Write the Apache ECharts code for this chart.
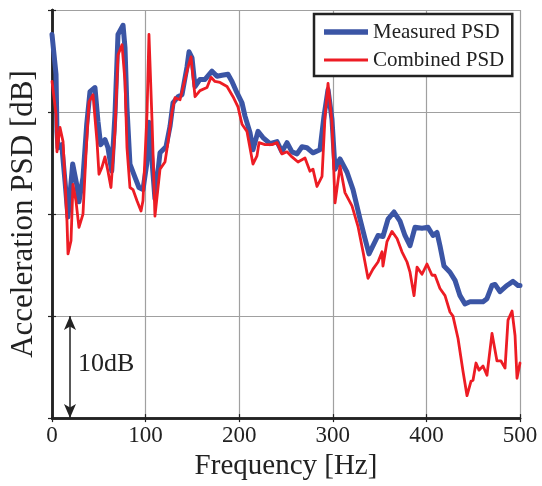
<!DOCTYPE html>
<html>
<head>
<meta charset="utf-8">
<script src="https://cdn.jsdelivr.net/npm/echarts@6/dist/echarts.min.js"></script>
<style>
html,body{margin:0;padding:0;background:#fff;}
#chart{width:542px;height:486px;}
</style>
</head>
<body>
<div id="chart"></div>
<script>
// ---- data ----
const xTicks = [0, 100, 200, 300, 400, 500];
const measuredFreq = [0,4.3,5.3,6.4,10.4,13.9,17.1,22.1,26.4,28.8,33.1,37.1,40.6,45.9,49.1,52.0,56.6,59.8,63.8,67.3,70.5,75.9,78.0,80.1,83.3,88.7,92.9,97.2,101.2,103.6,110.0,115.4,121.8,126.1,129.3,134.6,138.9,144.2,146.4,149.6,152.8,158.1,163.5,170.9,176.3,181.6,188.0,192.3,197.6,203.0,206.2,211.5,214.7,220.1,225.4,232.9,240.4,245.7,251.1,256.4,261.8,267.1,272.4,278.8,286.3,290.6,294.9,299.1,302.4,307.7,315.2,321.6,329.1,334.4,338.7,343.0,348.3,353.6,359.0,365.4,371.8,377.1,382.5,387.8,395.3,401.7,407.1,411.3,414.5,418.8,425.2,430.6,435.9,441.2,446.6,454.1,460.5,464.7,470.1,473.3,478.6,486.1,492.5,497.9,500];
const measuredPSD = [37.6,33.7,28.1,26.5,26.8,23.2,19.7,24.9,22.9,21.2,23.6,28.8,32.0,32.4,29.1,26.8,27.3,26.5,24.2,29.8,37.6,38.5,36.3,30.4,24.9,23.6,22.6,22.4,24.9,29.0,21.5,26.0,26.6,28.6,30.9,31.5,31.7,34.4,35.9,35.3,32.5,33.2,33.2,34.0,33.5,33.6,33.7,33.0,31.9,30.9,29.6,28.0,26.3,28.1,27.5,26.9,27.1,26.1,27.0,26.1,25.9,26.6,26.5,26.0,26.3,29.6,32.2,29.3,24.4,25.4,24.1,22.4,19.5,17.6,16.1,16.9,17.9,17.8,19.5,20.2,19.3,17.9,16.9,18.7,18.6,18.7,17.9,18.2,16.9,14.9,14.3,13.5,12.0,11.2,11.4,11.4,11.4,11.7,13.0,13.1,12.4,13.0,13.4,13.0,13.0];
const combinedFreq = [0,4.3,5.3,8.5,11.8,13.9,16.0,17.1,20.3,22.4,25.6,28.8,33.1,36.3,39.5,43.8,48.1,50.2,53.4,56.6,59.8,63.0,67.3,70.5,74.8,78.0,80.1,83.3,86.5,90.8,95.1,97.2,101.5,103.6,106.8,110.0,115.4,120.7,123.9,128.2,131.4,136.8,140.0,145.3,148.5,152.8,158.1,165.6,169.9,174.1,179.5,187.0,193.4,198.7,203.0,208.3,214.7,219.0,221.2,227.6,235.0,240.4,245.7,251.1,256.4,262.8,270.3,275.6,278.8,283.1,288.5,291.7,294.9,299.1,302.4,307.7,313.0,320.5,326.9,332.3,337.6,342.9,348.3,352.6,353.6,357.9,363.2,368.6,373.9,379.3,382.5,386.8,390.0,395.3,400.6,406.0,409.2,414.5,419.9,425.2,428.4,433.8,439.1,443.4,447.6,449.8,453.0,456.2,460.5,464.7,470.1,475.4,479.7,484.0,487.2,491.5,494.7,496.8,500];
const combinedPSD = [33.0,29.8,26.1,28.5,27.1,23.2,19.3,16.1,17.4,22.9,21.3,18.7,20.0,25.9,31.0,31.7,27.1,23.9,24.6,25.6,24.2,22.6,28.1,35.6,36.6,33.0,26.5,22.6,22.4,21.3,20.3,21.3,29.8,37.6,29.3,19.8,24.4,25.1,27.0,30.0,31.4,31.2,32.4,34.4,35.4,31.5,32.1,32.4,33.4,33.0,32.9,32.5,31.5,30.5,28.8,28.1,24.9,25.7,27.0,26.8,26.8,27.0,25.9,26.1,25.6,25.1,25.5,24.2,24.4,22.7,23.7,29.6,32.8,29.0,21.1,24.7,22.1,20.8,18.8,16.3,13.7,14.6,15.3,16.3,14.9,17.3,18.3,17.6,16.3,15.3,14.3,12.0,14.8,14.1,15.1,14.0,14.0,12.7,12.0,10.4,10.0,7.8,4.6,2.2,3.6,3.7,5.4,4.7,5.1,4.2,8.3,5.6,5.6,4.9,9.6,10.5,8.1,3.9,5.4];
const scaleBar = { freq: 19.2, from: 0, to: 10, label: '10dB' };
const seriesNames = ['Measured PSD', 'Combined PSD'];

function zip(xs, ys) {
  const n = Math.min(xs.length, ys.length);
  const out = [];
  for (let i = 0; i < n; i++) out.push([xs[i], ys[i]]);
  return out;
}

const FONT = "'Liberation Serif', 'Times New Roman', serif";
const INK = '#222';
const BLUE = '#3b55a5';
const RED = '#ed1c24';
const chart = echarts.init(document.getElementById('chart'), null, { renderer: 'canvas' });

const commonX = {
  type: 'value', min: xTicks[0], max: xTicks[xTicks.length - 1], interval: 100
};
const commonY = { type: 'value', min: 0, max: 40, interval: 10 };

chart.setOption({
  animation: false,
  backgroundColor: '#fff',
  grid: { left: 52, right: 22, top: 10, bottom: 66, containLabel: false },
  legend: {
    left: 314, top: 14, orient: 'vertical',
    backgroundColor: '#fff', borderColor: INK, borderWidth: 2.5,
    padding: [7, 8, 5, 10],
    itemWidth: 44, itemHeight: 22, itemGap: 6,
    symbolKeepAspect: true,
    textStyle: { fontFamily: FONT, fontSize: 21, color: INK, lineHeight: 22 },
    data: [
      { name: seriesNames[0], icon: 'path://M0,0h44v5.5h-44z', itemStyle: { color: BLUE } },
      { name: seriesNames[1], icon: 'path://M0,0h44v3h-44z', itemStyle: { color: RED } }
    ]
  },
  xAxis: [
    Object.assign({}, commonX, {
      position: 'bottom',
      name: 'Frequency [Hz]', nameLocation: 'middle', nameGap: 32,
      nameTextStyle: { fontFamily: FONT, fontSize: 29, color: INK },
      axisLine: { show: true, lineStyle: { color: INK, width: 2.5 } },
      axisTick: { show: true, inside: true, length: 4, lineStyle: { color: INK, width: 1.2 } },
      axisLabel: { fontFamily: FONT, fontSize: 23, color: INK, margin: 6 },
      splitLine: { show: true, lineStyle: { color: '#a0a0a0', width: 1.2 } }
    }),
    Object.assign({}, commonX, {
      position: 'top',
      axisLine: { show: true, lineStyle: { color: INK, width: 2.5 } },
      axisTick: { show: true, inside: true, length: 4, lineStyle: { color: INK, width: 1.2 } },
      axisLabel: { show: false },
      splitLine: { show: false }
    })
  ],
  yAxis: [
    Object.assign({}, commonY, {
      position: 'left',
      name: 'Acceleration PSD [dB]', nameLocation: 'middle', nameGap: 13,
      nameTextStyle: { fontFamily: FONT, fontSize: 31, color: INK },
      axisLine: { show: true, lineStyle: { color: INK, width: 2.5 } },
      axisTick: { show: true, inside: true, length: 4, lineStyle: { color: INK, width: 1.2 } },
      axisLabel: { show: false },
      splitLine: { show: true, lineStyle: { color: '#a0a0a0', width: 1.2 } }
    }),
    Object.assign({}, commonY, {
      position: 'right',
      axisLine: { show: true, lineStyle: { color: INK, width: 2.5 } },
      axisTick: { show: true, inside: true, length: 4, lineStyle: { color: INK, width: 1.2 } },
      axisLabel: { show: false },
      splitLine: { show: false }
    })
  ],
  series: [
    {
      name: seriesNames[0], type: 'line', xAxisIndex: 0, yAxisIndex: 0,
      data: zip(measuredFreq, measuredPSD),
      symbol: 'none', showSymbol: false, smooth: false, clip: true,
      color: BLUE,
      lineStyle: { color: BLUE, width: 5, join: 'round', cap: 'round' },
      markLine: {
        silent: true, animation: false,
        symbol: ['arrow', 'arrow'], symbolSize: [9, 14],
        label: { show: false },
        lineStyle: { color: INK, width: 1.5, type: 'solid' },
        emphasis: { disabled: true },
        data: [[{ coord: [scaleBar.freq, scaleBar.from] }, { coord: [scaleBar.freq, scaleBar.to] }]]
      }
    },
    {
      name: seriesNames[1], type: 'line', xAxisIndex: 0, yAxisIndex: 0,
      data: zip(combinedFreq, combinedPSD),
      symbol: 'none', showSymbol: false, smooth: false, clip: true,
      color: RED,
      lineStyle: { color: RED, width: 2.8, join: 'round', cap: 'round' }
    }
  ]
});

// label of the scale bar, placed next to the bar via the axis scales
const p = chart.convertToPixel({ xAxisIndex: 0, yAxisIndex: 0 }, [scaleBar.freq, (scaleBar.from + scaleBar.to) / 2]);
chart.setOption({
  graphic: [{
    type: 'text', left: p[0] + 8, top: p[1] - 16, silent: true,
    style: { text: scaleBar.label, font: "26px 'Liberation Serif', 'Times New Roman', serif", fill: INK }
  }]
});
</script>
</body>
</html>
